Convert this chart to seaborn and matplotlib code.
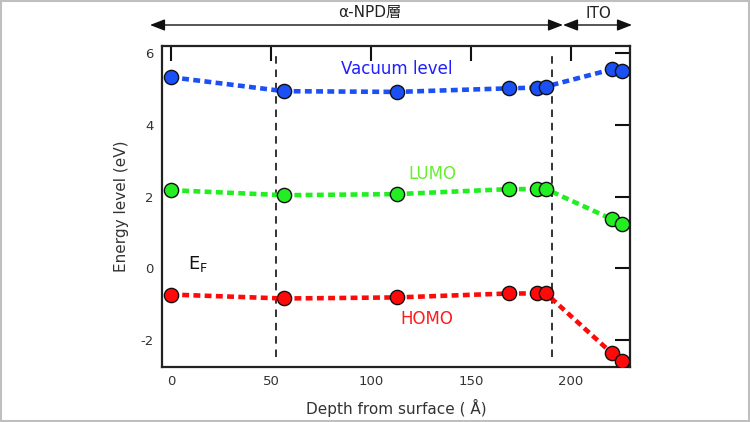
import matplotlib
matplotlib.use("Agg")
import matplotlib.pyplot as plt
import seaborn as sns
import pandas as pd
from matplotlib.patches import Rectangle, FancyArrowPatch

# ---- data ----
depth = [0, 56.5, 113, 169, 183, 187.5, 220.5, 225.5]
vacuum = [5.33, 4.94, 4.92, 5.02, 5.04, 5.07, 5.55, 5.50]
lumo = [2.18, 2.04, 2.07, 2.21, 2.21, 2.21, 1.37, 1.23]
homo = [-0.73, -0.84, -0.81, -0.70, -0.70, -0.70, -2.37, -2.57]
series_names = ["Vacuum level", "LUMO", "HOMO"]
boundaries = [52.5, 190.5]
xticks = [0, 50, 100, 150, 200]
yticks = [-2, 0, 2, 4, 6]

sns.set_theme(style="white")
plt.rcParams['font.family'] = ['DejaVu Sans', 'Noto Sans CJK JP']
plt.rcParams['axes.unicode_minus'] = False

line_colors = {"Vacuum level": "#1a50f5", "LUMO": "#22ee22", "HOMO": "#ff0a0a"}
text_colors = {"Vacuum level": "#1f1fff", "LUMO": "#66ee33", "HOMO": "#ff1a1a"}

df = pd.concat([
    pd.DataFrame({"depth": depth, "energy": vals, "series": name})
    for name, vals in zip(series_names, [vacuum, lumo, homo])
], ignore_index=True)

fig = plt.figure(figsize=(7.5, 4.22), dpi=100)
ax = fig.add_axes([162/750, 1-367/422, (630-162)/750, (367-46)/422])

for name in series_names:
    sub = df[df.series == name]
    sns.lineplot(data=sub, x="depth", y="energy", ax=ax, color=line_colors[name],
                 lw=3.3, linestyle=(0, (1.5, 0.95)), sort=False, estimator=None,
                 zorder=2)
    sns.scatterplot(data=sub, x="depth", y="energy", ax=ax, color=line_colors[name],
                    s=105, edgecolor="#111111", linewidth=1.0, zorder=3)

for b in boundaries:
    ax.axvline(b, ymin=0.03, ymax=0.985, color="#111111", lw=1.2,
               linestyle=(0, (4.5, 3.5)), zorder=1)

ax.set_xlim(-4.5, 229.5)
ax.set_ylim(-2.75, 6.2)
ax.set_xticks(xticks)
ax.set_yticks(yticks)
ax.tick_params(direction="in", length=11, width=1.5, top=True, right=True,
               labelsize=9.5, labelcolor="#333333", color="#111111", pad=6)
for s in ax.spines.values():
    s.set_linewidth(1.6)
    s.set_color("#222222")
    s.set_visible(True)

ax.set_xlabel("Depth from surface ( Å)", fontsize=11, color="#333333", labelpad=8)
ax.set_ylabel("Energy level (eV)", fontsize=11, color="#333333", labelpad=8)

ax.text(113, 5.55, "Vacuum level", color=text_colors["Vacuum level"], fontsize=12,
        ha="center", va="center")
ax.text(130.5, 2.62, "LUMO", color=text_colors["LUMO"], fontsize=12,
        ha="center", va="center")
ax.text(128, -1.4, "HOMO", color=text_colors["HOMO"], fontsize=12,
        ha="center", va="center")
ax.text(8.5, 0.12, r"E$_\mathregular{F}$", color="#111111", fontsize=13,
        ha="left", va="center")

# top arrows (figure coordinates)
ya = 1 - 25/422
arrowprops = dict(arrowstyle="<|-|>,head_length=0.9,head_width=0.35", color="#111111",
                  lw=1.0, shrinkA=0, shrinkB=0)
fig.add_artist(FancyArrowPatch((150/750, ya), (563/750, ya),
               transform=fig.transFigure, mutation_scale=10, **arrowprops))
fig.add_artist(FancyArrowPatch((563/750, ya), (632/750, ya),
               transform=fig.transFigure, mutation_scale=10, **arrowprops))
fig.text(370/750, 1 - 13/422, "α-NPD層", ha="center", va="center", fontsize=11,
         color="#222222", family=['DejaVu Sans', 'Noto Sans CJK JP'])
fig.text(598/750, 1 - 13/422, "ITO", ha="center", va="center", fontsize=11,
         color="#222222")

# light gray frame around the image
fig.add_artist(Rectangle((0.001, 0.002), 0.997, 0.996, transform=fig.transFigure,
                         fill=False, edgecolor="#bfbfbf", lw=1.5))

fig.savefig("out.png", dpi=100)
